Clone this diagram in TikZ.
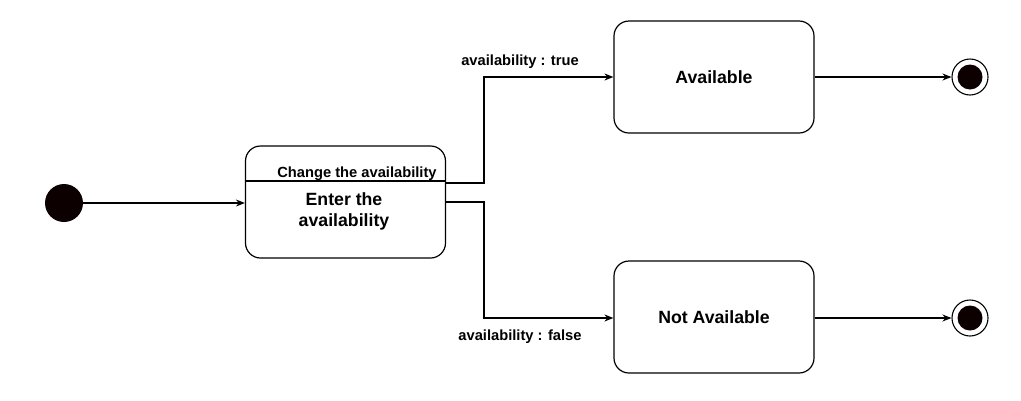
\documentclass[tikz,border=0pt]{standalone}
\usepackage{fontspec}
\setmainfont{Liberation Sans}
\usetikzlibrary{arrows.meta}
\begin{document}
\begin{tikzpicture}[x=1pt,y=-1pt,
  state/.style={draw,line width=1.2pt,rounded corners=15pt,minimum width=200pt,minimum height=112pt,inner sep=0pt,font=\fontsize{17.7}{20}\selectfont\bfseries,align=center},
  conn/.style={line width=1.1pt,-{Stealth[length=9pt,width=7pt]}},
  lbl/.style={font=\fontsize{14.7}{17}\selectfont\bfseries,inner sep=0pt},
  initst/.style={circle,fill=black!95!red,minimum size=38pt,inner sep=0pt},
  finalst/.style={circle,draw,line width=1.1pt,minimum size=36pt,inner sep=0pt,path picture={\fill[black!95!red] (path picture bounding box.center) circle (12.5pt);}}]
\useasboundingbox (0,0) rectangle (1021,400);
\node[initst] (init) at (64,203) {};
\node[state] (enter) at (345.5,202) {};
\draw[line width=1.1pt] (246,181) -- (445,181);
\node[lbl] (change) at (357,173.5) {Change the availability};
\node[font=\fontsize{17.7}{20.5}\selectfont\bfseries,align=center] (entertxt) at (344,211.5) {Enter the\\availability};
\node[state] (avail) at (714,77) {Available};
\node[state] (notavail) at (714,317) {Not Available};
\node[finalst] (f1) at (970,77) {};
\node[finalst] (f2) at (970,318) {};
\coordinate (e1) at (445,183);
\coordinate (e2) at (445,202);
\draw[conn] (init) -- (enter.west |- init);
\draw[conn] (e1) -- (484,183) -- (484,77) -- (avail.west);
\draw[conn] (e2) -- (484,202) -- (484,318) -- (notavail.west |- 0,318);
\draw[conn] (avail.east) -- (f1);
\draw[conn] (notavail.east |- 0,318) -- (f2);
\node[lbl] (ltrue) at (520,62) {availability : true};
\node[lbl] (lfalse) at (520,337) {availability : false};
\end{tikzpicture}
\end{document}
